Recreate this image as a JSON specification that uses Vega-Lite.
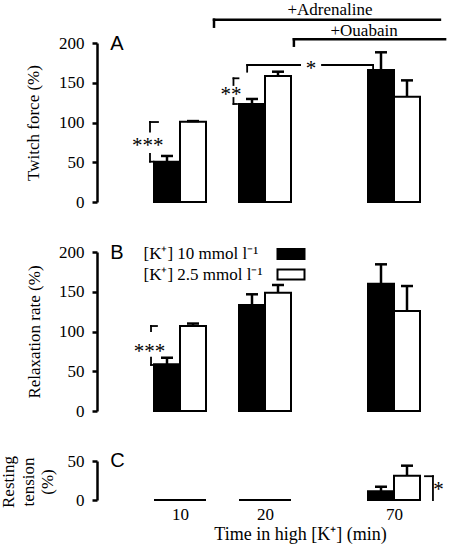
{
  "$schema": "https://vega.github.io/schema/vega-lite/v6.json",
  "autosize": {"type": "none"},
  "padding": {"left": 97, "top": 43, "right": 355, "bottom": 505},
  "background": "white",
  "datasets": {
    "bars": [
      {"panel": "A", "time": 10, "conc": 10, "series": "[K⁺] 10 mmol l⁻¹", "mean": 50.7, "upper": 57.9},
      {"panel": "A", "time": 10, "conc": 2.5, "series": "[K⁺] 2.5 mmol l⁻¹", "mean": 101, "upper": 101.8},
      {"panel": "A", "time": 20, "conc": 10, "series": "[K⁺] 10 mmol l⁻¹", "mean": 123.3, "upper": 129.6},
      {"panel": "A", "time": 20, "conc": 2.5, "series": "[K⁺] 2.5 mmol l⁻¹", "mean": 158.5, "upper": 163.9},
      {"panel": "A", "time": 70, "conc": 10, "series": "[K⁺] 10 mmol l⁻¹", "mean": 166, "upper": 188.3},
      {"panel": "A", "time": 70, "conc": 2.5, "series": "[K⁺] 2.5 mmol l⁻¹", "mean": 132.5, "upper": 153},
      {"panel": "B", "time": 10, "conc": 10, "series": "[K⁺] 10 mmol l⁻¹", "mean": 58.7, "upper": 67},
      {"panel": "B", "time": 10, "conc": 2.5, "series": "[K⁺] 2.5 mmol l⁻¹", "mean": 107, "upper": 110},
      {"panel": "B", "time": 20, "conc": 10, "series": "[K⁺] 10 mmol l⁻¹", "mean": 133.3, "upper": 146.8},
      {"panel": "B", "time": 20, "conc": 2.5, "series": "[K⁺] 2.5 mmol l⁻¹", "mean": 148.8, "upper": 158.5},
      {"panel": "B", "time": 70, "conc": 10, "series": "[K⁺] 10 mmol l⁻¹", "mean": 160.1, "upper": 184.5},
      {"panel": "B", "time": 70, "conc": 2.5, "series": "[K⁺] 2.5 mmol l⁻¹", "mean": 125.8, "upper": 157.2},
      {"panel": "C", "time": 10, "conc": 10, "series": "[K⁺] 10 mmol l⁻¹", "mean": 0, "upper": null},
      {"panel": "C", "time": 10, "conc": 2.5, "series": "[K⁺] 2.5 mmol l⁻¹", "mean": 0, "upper": null},
      {"panel": "C", "time": 20, "conc": 10, "series": "[K⁺] 10 mmol l⁻¹", "mean": 0, "upper": null},
      {"panel": "C", "time": 20, "conc": 2.5, "series": "[K⁺] 2.5 mmol l⁻¹", "mean": 0, "upper": null},
      {"panel": "C", "time": 70, "conc": 10, "series": "[K⁺] 10 mmol l⁻¹", "mean": 11.2, "upper": 17},
      {"panel": "C", "time": 70, "conc": 2.5, "series": "[K⁺] 2.5 mmol l⁻¹", "mean": 31, "upper": 44}
    ],
    "segments": [
      {"panel": "A", "kind": "treatment", "t1": 14.0, "t2": 87.8, "y1": 229.3, "y2": 229.3},
      {"panel": "A", "kind": "treatment", "t1": 14.0, "t2": 14.0, "y1": 229.3, "y2": 220.5},
      {"panel": "A", "kind": "treatment", "t1": 31.2, "t2": 89.8, "y1": 204.7, "y2": 204.7},
      {"panel": "A", "kind": "treatment", "t1": 31.2, "t2": 31.2, "y1": 204.7, "y2": 196.6},
      {"panel": "A", "kind": "sig", "t1": 17.9, "t2": 33.6, "y1": 172.3, "y2": 172.3},
      {"panel": "A", "kind": "sig", "t1": 17.9, "t2": 17.9, "y1": 172.3, "y2": 163.9},
      {"panel": "A", "kind": "sig", "t1": 42.1, "t2": 61.9, "y1": 172.3, "y2": 172.3},
      {"panel": "A", "kind": "sig", "t1": 61.9, "t2": 61.9, "y1": 172.3, "y2": 166},
      {"panel": "A", "kind": "sig", "t1": 16.29, "t2": 16.88, "y1": 155.6, "y2": 155.6},
      {"panel": "A", "kind": "sig", "t1": 16.29, "t2": 16.29, "y1": 155.6, "y2": 147.2},
      {"panel": "A", "kind": "sig", "t1": 16.29, "t2": 16.29, "y1": 130.8, "y2": 123.3},
      {"panel": "A", "kind": "sig", "t1": 16.29, "t2": 16.7, "y1": 123.3, "y2": 123.3},
      {"panel": "A", "kind": "sig", "t1": 6.47, "t2": 7.41, "y1": 100.6, "y2": 100.6},
      {"panel": "A", "kind": "sig", "t1": 6.47, "t2": 6.47, "y1": 100.6, "y2": 88.4},
      {"panel": "A", "kind": "sig", "t1": 6.47, "t2": 6.47, "y1": 60.4, "y2": 50.7},
      {"panel": "A", "kind": "sig", "t1": 6.47, "t2": 6.88, "y1": 50.7, "y2": 50.7},
      {"panel": "B", "kind": "sig", "t1": 6.59, "t2": 7.29, "y1": 106.9, "y2": 106.9},
      {"panel": "B", "kind": "sig", "t1": 6.59, "t2": 6.59, "y1": 106.9, "y2": 100.6},
      {"panel": "B", "kind": "sig", "t1": 6.59, "t2": 6.59, "y1": 67.0, "y2": 57.9},
      {"panel": "B", "kind": "sig", "t1": 6.59, "t2": 7.06, "y1": 57.9, "y2": 57.9},
      {"panel": "C", "kind": "sig", "t1": 82.0, "t2": 85.1, "y1": 30.5, "y2": 30.5},
      {"panel": "C", "kind": "sig", "t1": 85.1, "t2": 85.1, "y1": 30.5, "y2": 0}
    ],
    "notes": [
      {"panel": "A", "kind": "treatment", "t": 45.2, "y": 235.2, "text": "+Adrenaline"},
      {"panel": "A", "kind": "treatment", "t": 58.4, "y": 209.2, "text": "+Ouabain"},
      {"panel": "A", "kind": "stars", "t": 37.8, "y": 172.3, "text": "*"},
      {"panel": "A", "kind": "stars", "t": 16.0, "y": 139.6, "text": "**"},
      {"panel": "A", "kind": "stars", "t": 6.2, "y": 75.8, "text": "***"},
      {"panel": "B", "kind": "stars", "t": 6.4, "y": 79.6, "text": "***"},
      {"panel": "C", "kind": "stars", "t": 87.2, "y": 18.3, "text": "*"},
      {"panel": "A", "kind": "letter", "t": 1.8, "y": 191.2, "text": "A"},
      {"panel": "B", "kind": "letter", "t": 1.8, "y": 190.8, "text": "B"},
      {"panel": "C", "kind": "letter", "t": 1.8, "y": 41.9, "text": "C"}
    ]
  },
  "bounds": "flush",
  "spacing": 50,
  "resolve": {"scale": {"fill": "independent"}},
  "vconcat": [
    {
      "width": 350,
      "height": 159,
      "layer": [
        {
          "data": {"name": "bars"},
          "transform": [{"filter": "datum.panel === 'A' && datum.conc === 10"}],
          "mark": {"type": "bar", "orient": "vertical", "size": 26, "xOffset": -13, "stroke": "black", "strokeWidth": 2},
          "encoding": {
            "x": {"field": "time", "type": "quantitative", "scale": {"type": "linear", "domain": [10, 20, 70], "range": [83, 168, 297], "nice": false, "zero": false, "padding": 0}, "axis": null},
            "y": {"field": "mean", "type": "quantitative", "stack": null, "scale": {"domain": [0, 200], "nice": false, "padding": 0}, "axis": {"title": "Twitch force (%)", "values": [0, 50, 100, 150, 200], "labelOverlap": false, "titlePadding": 16}},
            "fill": {"field": "series", "type": "nominal", "scale": {"domain": ["[K⁺] 10 mmol l⁻¹", "[K⁺] 2.5 mmol l⁻¹"], "range": ["black", "white"]}, "legend": null}
          }
        },
        {
          "data": {"name": "bars"},
          "transform": [{"filter": "datum.panel === 'A' && datum.conc === 2.5"}],
          "mark": {"type": "bar", "orient": "vertical", "size": 26, "xOffset": 13, "stroke": "black", "strokeWidth": 2},
          "encoding": {
            "x": {"field": "time", "type": "quantitative", "scale": {"type": "linear", "domain": [10, 20, 70], "range": [83, 168, 297], "nice": false, "zero": false, "padding": 0}, "axis": null},
            "y": {"field": "mean", "type": "quantitative", "stack": null, "scale": {"domain": [0, 200], "nice": false, "padding": 0}, "axis": {"title": "Twitch force (%)", "values": [0, 50, 100, 150, 200], "labelOverlap": false, "titlePadding": 16}},
            "fill": {"field": "series", "type": "nominal", "scale": {"domain": ["[K⁺] 10 mmol l⁻¹", "[K⁺] 2.5 mmol l⁻¹"], "range": ["black", "white"]}, "legend": null}
          }
        },
        {
          "data": {"name": "bars"},
          "transform": [{"filter": "datum.panel === 'A' && datum.conc === 10 && datum.upper != null"}],
          "mark": {"type": "rule", "xOffset": -13, "strokeWidth": 2.5, "color": "black"},
          "encoding": {
            "x": {"field": "time", "type": "quantitative", "scale": {"type": "linear", "domain": [10, 20, 70], "range": [83, 168, 297], "nice": false, "zero": false, "padding": 0}, "axis": null},
            "y": {"field": "mean", "type": "quantitative", "scale": {"domain": [0, 200], "nice": false, "padding": 0}, "axis": {"title": "Twitch force (%)", "values": [0, 50, 100, 150, 200], "labelOverlap": false, "titlePadding": 16}},
            "y2": {"field": "upper"}
          }
        },
        {
          "data": {"name": "bars"},
          "transform": [{"filter": "datum.panel === 'A' && datum.conc === 2.5 && datum.upper != null"}],
          "mark": {"type": "rule", "xOffset": 13, "strokeWidth": 2.5, "color": "black"},
          "encoding": {
            "x": {"field": "time", "type": "quantitative", "scale": {"type": "linear", "domain": [10, 20, 70], "range": [83, 168, 297], "nice": false, "zero": false, "padding": 0}, "axis": null},
            "y": {"field": "mean", "type": "quantitative", "scale": {"domain": [0, 200], "nice": false, "padding": 0}, "axis": {"title": "Twitch force (%)", "values": [0, 50, 100, 150, 200], "labelOverlap": false, "titlePadding": 16}},
            "y2": {"field": "upper"}
          }
        },
        {
          "data": {"name": "bars"},
          "transform": [{"filter": "datum.panel === 'A' && datum.conc === 10 && datum.upper != null"}],
          "mark": {"type": "tick", "orient": "horizontal", "xOffset": -13, "size": 12, "thickness": 2.5, "color": "black", "opacity": 1},
          "encoding": {
            "x": {"field": "time", "type": "quantitative", "scale": {"type": "linear", "domain": [10, 20, 70], "range": [83, 168, 297], "nice": false, "zero": false, "padding": 0}, "axis": null},
            "y": {"field": "upper", "type": "quantitative", "scale": {"domain": [0, 200], "nice": false, "padding": 0}, "axis": {"title": "Twitch force (%)", "values": [0, 50, 100, 150, 200], "labelOverlap": false, "titlePadding": 16}}
          }
        },
        {
          "data": {"name": "bars"},
          "transform": [{"filter": "datum.panel === 'A' && datum.conc === 2.5 && datum.upper != null"}],
          "mark": {"type": "tick", "orient": "horizontal", "xOffset": 13, "size": 12, "thickness": 2.5, "color": "black", "opacity": 1},
          "encoding": {
            "x": {"field": "time", "type": "quantitative", "scale": {"type": "linear", "domain": [10, 20, 70], "range": [83, 168, 297], "nice": false, "zero": false, "padding": 0}, "axis": null},
            "y": {"field": "upper", "type": "quantitative", "scale": {"domain": [0, 200], "nice": false, "padding": 0}, "axis": {"title": "Twitch force (%)", "values": [0, 50, 100, 150, 200], "labelOverlap": false, "titlePadding": 16}}
          }
        },
        {
          "data": {"name": "segments"},
          "transform": [{"filter": "datum.panel === 'A' && datum.kind === 'treatment'"}],
          "mark": {"type": "rule", "strokeWidth": 2.5, "strokeCap": "square", "color": "black"},
          "encoding": {
            "x": {"field": "t1", "type": "quantitative", "scale": {"type": "linear", "domain": [10, 20, 70], "range": [83, 168, 297], "nice": false, "zero": false, "padding": 0}, "axis": null},
            "x2": {"field": "t2"},
            "y": {"field": "y1", "type": "quantitative", "scale": {"domain": [0, 200], "nice": false, "padding": 0}, "axis": {"title": "Twitch force (%)", "values": [0, 50, 100, 150, 200], "labelOverlap": false, "titlePadding": 16}},
            "y2": {"field": "y2"}
          }
        },
        {
          "data": {"name": "segments"},
          "transform": [{"filter": "datum.panel === 'A' && datum.kind === 'sig'"}],
          "mark": {"type": "rule", "strokeWidth": 1.8, "strokeCap": "square", "color": "black"},
          "encoding": {
            "x": {"field": "t1", "type": "quantitative", "scale": {"type": "linear", "domain": [10, 20, 70], "range": [83, 168, 297], "nice": false, "zero": false, "padding": 0}, "axis": null},
            "x2": {"field": "t2"},
            "y": {"field": "y1", "type": "quantitative", "scale": {"domain": [0, 200], "nice": false, "padding": 0}, "axis": {"title": "Twitch force (%)", "values": [0, 50, 100, 150, 200], "labelOverlap": false, "titlePadding": 16}},
            "y2": {"field": "y2"}
          }
        },
        {
          "data": {"name": "notes"},
          "transform": [{"filter": "datum.panel === 'A' && datum.kind === 'treatment'"}],
          "mark": {"type": "text", "font": "Liberation Serif", "fontSize": 17, "align": "center", "baseline": "alphabetic", "color": "black"},
          "encoding": {
            "x": {"field": "t", "type": "quantitative", "scale": {"type": "linear", "domain": [10, 20, 70], "range": [83, 168, 297], "nice": false, "zero": false, "padding": 0}, "axis": null},
            "y": {"field": "y", "type": "quantitative", "scale": {"domain": [0, 200], "nice": false, "padding": 0}, "axis": {"title": "Twitch force (%)", "values": [0, 50, 100, 150, 200], "labelOverlap": false, "titlePadding": 16}},
            "text": {"field": "text"}
          }
        },
        {
          "data": {"name": "notes"},
          "transform": [{"filter": "datum.panel === 'A' && datum.kind === 'stars'"}],
          "mark": {"type": "text", "font": "Liberation Serif", "fontSize": 21, "align": "center", "baseline": "alphabetic", "dy": 10, "color": "black"},
          "encoding": {
            "x": {"field": "t", "type": "quantitative", "scale": {"type": "linear", "domain": [10, 20, 70], "range": [83, 168, 297], "nice": false, "zero": false, "padding": 0}, "axis": null},
            "y": {"field": "y", "type": "quantitative", "scale": {"domain": [0, 200], "nice": false, "padding": 0}, "axis": {"title": "Twitch force (%)", "values": [0, 50, 100, 150, 200], "labelOverlap": false, "titlePadding": 16}},
            "text": {"field": "text"}
          }
        },
        {
          "data": {"name": "notes"},
          "transform": [{"filter": "datum.panel === 'A' && datum.kind === 'letter'"}],
          "mark": {"type": "text", "font": "Liberation Sans", "fontSize": 20, "align": "left", "baseline": "alphabetic", "color": "black"},
          "encoding": {
            "x": {"field": "t", "type": "quantitative", "scale": {"type": "linear", "domain": [10, 20, 70], "range": [83, 168, 297], "nice": false, "zero": false, "padding": 0}, "axis": null},
            "y": {"field": "y", "type": "quantitative", "scale": {"domain": [0, 200], "nice": false, "padding": 0}, "axis": {"title": "Twitch force (%)", "values": [0, 50, 100, 150, 200], "labelOverlap": false, "titlePadding": 16}},
            "text": {"field": "text"}
          }
        }
      ]
    },
    {
      "width": 350,
      "height": 159,
      "layer": [
        {
          "data": {"name": "bars"},
          "transform": [{"filter": "datum.panel === 'B' && datum.conc === 10"}],
          "mark": {"type": "bar", "orient": "vertical", "size": 26, "xOffset": -13, "stroke": "black", "strokeWidth": 2},
          "encoding": {
            "x": {"field": "time", "type": "quantitative", "scale": {"type": "linear", "domain": [10, 20, 70], "range": [83, 168, 297], "nice": false, "zero": false, "padding": 0}, "axis": null},
            "y": {"field": "mean", "type": "quantitative", "stack": null, "scale": {"domain": [0, 200], "nice": false, "padding": 0}, "axis": {"title": "Relaxation rate (%)", "values": [0, 50, 100, 150, 200], "labelOverlap": false, "titlePadding": 15}},
            "fill": {
              "field": "series", "type": "nominal",
              "scale": {"domain": ["[K⁺] 10 mmol l⁻¹", "[K⁺] 2.5 mmol l⁻¹"], "range": ["black", "white"]},
              "legend": {
                "orient": "none", "legendX": 185.5, "legendY": -6.5, "title": null, "padding": 0,
                "symbolType": "M-2.7,-1H2.7V1H-2.7Z", "symbolSize": 100,
                "symbolStrokeColor": "black", "symbolStrokeWidth": 2,
                "labelFont": "Liberation Serif", "labelFontSize": 17, "labelColor": "black",
                "labelOffset": -156, "labelLimit": 300, "rowPadding": 1.5
              }
            }
          }
        },
        {
          "data": {"name": "bars"},
          "transform": [{"filter": "datum.panel === 'B' && datum.conc === 2.5"}],
          "mark": {"type": "bar", "orient": "vertical", "size": 26, "xOffset": 13, "stroke": "black", "strokeWidth": 2},
          "encoding": {
            "x": {"field": "time", "type": "quantitative", "scale": {"type": "linear", "domain": [10, 20, 70], "range": [83, 168, 297], "nice": false, "zero": false, "padding": 0}, "axis": null},
            "y": {"field": "mean", "type": "quantitative", "stack": null, "scale": {"domain": [0, 200], "nice": false, "padding": 0}, "axis": {"title": "Relaxation rate (%)", "values": [0, 50, 100, 150, 200], "labelOverlap": false, "titlePadding": 15}},
            "fill": {"field": "series", "type": "nominal", "scale": {"domain": ["[K⁺] 10 mmol l⁻¹", "[K⁺] 2.5 mmol l⁻¹"], "range": ["black", "white"]}}
          }
        },
        {
          "data": {"name": "bars"},
          "transform": [{"filter": "datum.panel === 'B' && datum.conc === 10 && datum.upper != null"}],
          "mark": {"type": "rule", "xOffset": -13, "strokeWidth": 2.5, "color": "black"},
          "encoding": {
            "x": {"field": "time", "type": "quantitative", "scale": {"type": "linear", "domain": [10, 20, 70], "range": [83, 168, 297], "nice": false, "zero": false, "padding": 0}, "axis": null},
            "y": {"field": "mean", "type": "quantitative", "scale": {"domain": [0, 200], "nice": false, "padding": 0}, "axis": {"title": "Relaxation rate (%)", "values": [0, 50, 100, 150, 200], "labelOverlap": false, "titlePadding": 15}},
            "y2": {"field": "upper"}
          }
        },
        {
          "data": {"name": "bars"},
          "transform": [{"filter": "datum.panel === 'B' && datum.conc === 2.5 && datum.upper != null"}],
          "mark": {"type": "rule", "xOffset": 13, "strokeWidth": 2.5, "color": "black"},
          "encoding": {
            "x": {"field": "time", "type": "quantitative", "scale": {"type": "linear", "domain": [10, 20, 70], "range": [83, 168, 297], "nice": false, "zero": false, "padding": 0}, "axis": null},
            "y": {"field": "mean", "type": "quantitative", "scale": {"domain": [0, 200], "nice": false, "padding": 0}, "axis": {"title": "Relaxation rate (%)", "values": [0, 50, 100, 150, 200], "labelOverlap": false, "titlePadding": 15}},
            "y2": {"field": "upper"}
          }
        },
        {
          "data": {"name": "bars"},
          "transform": [{"filter": "datum.panel === 'B' && datum.conc === 10 && datum.upper != null"}],
          "mark": {"type": "tick", "orient": "horizontal", "xOffset": -13, "size": 12, "thickness": 2.5, "color": "black", "opacity": 1},
          "encoding": {
            "x": {"field": "time", "type": "quantitative", "scale": {"type": "linear", "domain": [10, 20, 70], "range": [83, 168, 297], "nice": false, "zero": false, "padding": 0}, "axis": null},
            "y": {"field": "upper", "type": "quantitative", "scale": {"domain": [0, 200], "nice": false, "padding": 0}, "axis": {"title": "Relaxation rate (%)", "values": [0, 50, 100, 150, 200], "labelOverlap": false, "titlePadding": 15}}
          }
        },
        {
          "data": {"name": "bars"},
          "transform": [{"filter": "datum.panel === 'B' && datum.conc === 2.5 && datum.upper != null"}],
          "mark": {"type": "tick", "orient": "horizontal", "xOffset": 13, "size": 12, "thickness": 2.5, "color": "black", "opacity": 1},
          "encoding": {
            "x": {"field": "time", "type": "quantitative", "scale": {"type": "linear", "domain": [10, 20, 70], "range": [83, 168, 297], "nice": false, "zero": false, "padding": 0}, "axis": null},
            "y": {"field": "upper", "type": "quantitative", "scale": {"domain": [0, 200], "nice": false, "padding": 0}, "axis": {"title": "Relaxation rate (%)", "values": [0, 50, 100, 150, 200], "labelOverlap": false, "titlePadding": 15}}
          }
        },
        {
          "data": {"name": "segments"},
          "transform": [{"filter": "datum.panel === 'B' && datum.kind === 'sig'"}],
          "mark": {"type": "rule", "strokeWidth": 1.8, "strokeCap": "square", "color": "black"},
          "encoding": {
            "x": {"field": "t1", "type": "quantitative", "scale": {"type": "linear", "domain": [10, 20, 70], "range": [83, 168, 297], "nice": false, "zero": false, "padding": 0}, "axis": null},
            "x2": {"field": "t2"},
            "y": {"field": "y1", "type": "quantitative", "scale": {"domain": [0, 200], "nice": false, "padding": 0}, "axis": {"title": "Relaxation rate (%)", "values": [0, 50, 100, 150, 200], "labelOverlap": false, "titlePadding": 15}},
            "y2": {"field": "y2"}
          }
        },
        {
          "data": {"name": "notes"},
          "transform": [{"filter": "datum.panel === 'B' && datum.kind === 'stars'"}],
          "mark": {"type": "text", "font": "Liberation Serif", "fontSize": 21, "align": "center", "baseline": "alphabetic", "dy": 10, "color": "black"},
          "encoding": {
            "x": {"field": "t", "type": "quantitative", "scale": {"type": "linear", "domain": [10, 20, 70], "range": [83, 168, 297], "nice": false, "zero": false, "padding": 0}, "axis": null},
            "y": {"field": "y", "type": "quantitative", "scale": {"domain": [0, 200], "nice": false, "padding": 0}, "axis": {"title": "Relaxation rate (%)", "values": [0, 50, 100, 150, 200], "labelOverlap": false, "titlePadding": 15}},
            "text": {"field": "text"}
          }
        },
        {
          "data": {"name": "notes"},
          "transform": [{"filter": "datum.panel === 'B' && datum.kind === 'letter'"}],
          "mark": {"type": "text", "font": "Liberation Sans", "fontSize": 20, "align": "left", "baseline": "alphabetic", "color": "black"},
          "encoding": {
            "x": {"field": "t", "type": "quantitative", "scale": {"type": "linear", "domain": [10, 20, 70], "range": [83, 168, 297], "nice": false, "zero": false, "padding": 0}, "axis": null},
            "y": {"field": "y", "type": "quantitative", "scale": {"domain": [0, 200], "nice": false, "padding": 0}, "axis": {"title": "Relaxation rate (%)", "values": [0, 50, 100, 150, 200], "labelOverlap": false, "titlePadding": 15}},
            "text": {"field": "text"}
          }
        }
      ]
    },
    {
      "width": 350,
      "height": 39,
      "resolve": {"axis": {"y": "independent"}},
      "layer": [
        {
          "data": {"name": "bars"},
          "transform": [{"filter": "datum.panel === 'C' && datum.conc === 10"}],
          "mark": {"type": "bar", "orient": "vertical", "size": 26, "xOffset": -13, "stroke": "black", "strokeWidth": 2},
          "encoding": {
            "x": {"field": "time", "type": "quantitative", "scale": {"type": "linear", "domain": [10, 20, 70], "range": [83, 168, 297], "nice": false, "zero": false, "padding": 0},
              "axis": {"values": [10, 20, 70], "domain": false, "ticks": false, "tickSize": 0, "labelPadding": 19, "labelBaseline": "alphabetic", "labelDx": 3, "labelFlush": false, "labelOverlap": false,
                "title": "Time in high [K⁺] (min)", "titleFontSize": 18, "titleX": 203, "titleY": 39, "titleBaseline": "alphabetic", "titleAlign": "center"}},
            "y": {"field": "mean", "type": "quantitative", "stack": null, "scale": {"domain": [0, 50], "nice": false, "padding": 0},
              "axis": {"orient": "left", "title": "(%)", "values": [0, 50], "labelOverlap": false, "titleAngle": 270, "titleX": -45, "titleY": 20.5, "titleAlign": "center", "titleBaseline": "alphabetic"}},
            "fill": {"field": "series", "type": "nominal", "scale": {"domain": ["[K⁺] 10 mmol l⁻¹", "[K⁺] 2.5 mmol l⁻¹"], "range": ["black", "white"]}, "legend": null}
          }
        },
        {
          "data": {"name": "bars"},
          "transform": [{"filter": "datum.panel === 'C' && datum.conc === 2.5"}],
          "mark": {"type": "bar", "orient": "vertical", "size": 26, "xOffset": 13, "stroke": "black", "strokeWidth": 2},
          "encoding": {
            "x": {"field": "time", "type": "quantitative", "scale": {"type": "linear", "domain": [10, 20, 70], "range": [83, 168, 297], "nice": false, "zero": false, "padding": 0}},
            "y": {"field": "mean", "type": "quantitative", "stack": null, "scale": {"domain": [0, 50], "nice": false, "padding": 0},
              "axis": {"orient": "left", "title": "tension", "domain": false, "ticks": false, "labels": false, "titleAngle": 270, "titleX": -64, "titleY": 20.5, "titleAlign": "center", "titleBaseline": "alphabetic"}},
            "fill": {"field": "series", "type": "nominal", "scale": {"domain": ["[K⁺] 10 mmol l⁻¹", "[K⁺] 2.5 mmol l⁻¹"], "range": ["black", "white"]}, "legend": null}
          }
        },
        {
          "data": {"name": "bars"},
          "transform": [{"filter": "datum.panel === 'C' && datum.conc === 10 && datum.upper != null"}],
          "mark": {"type": "rule", "xOffset": -13, "strokeWidth": 2.5, "color": "black"},
          "encoding": {
            "x": {"field": "time", "type": "quantitative", "scale": {"type": "linear", "domain": [10, 20, 70], "range": [83, 168, 297], "nice": false, "zero": false, "padding": 0}},
            "y": {"field": "mean", "type": "quantitative", "scale": {"domain": [0, 50], "nice": false, "padding": 0},
              "axis": {"orient": "left", "title": "Resting", "domain": false, "ticks": false, "labels": false, "titleAngle": 270, "titleX": -84, "titleY": 20.5, "titleAlign": "center", "titleBaseline": "alphabetic"}},
            "y2": {"field": "upper"}
          }
        },
        {
          "data": {"name": "bars"},
          "transform": [{"filter": "datum.panel === 'C' && datum.conc === 2.5 && datum.upper != null"}],
          "mark": {"type": "rule", "xOffset": 13, "strokeWidth": 2.5, "color": "black"},
          "encoding": {
            "x": {"field": "time", "type": "quantitative", "scale": {"type": "linear", "domain": [10, 20, 70], "range": [83, 168, 297], "nice": false, "zero": false, "padding": 0}},
            "y": {"field": "mean", "type": "quantitative", "scale": {"domain": [0, 50], "nice": false, "padding": 0}, "axis": null},
            "y2": {"field": "upper"}
          }
        },
        {
          "data": {"name": "bars"},
          "transform": [{"filter": "datum.panel === 'C' && datum.conc === 10 && datum.upper != null"}],
          "mark": {"type": "tick", "orient": "horizontal", "xOffset": -13, "size": 12, "thickness": 2.5, "color": "black", "opacity": 1},
          "encoding": {
            "x": {"field": "time", "type": "quantitative", "scale": {"type": "linear", "domain": [10, 20, 70], "range": [83, 168, 297], "nice": false, "zero": false, "padding": 0}},
            "y": {"field": "upper", "type": "quantitative", "scale": {"domain": [0, 50], "nice": false, "padding": 0}, "axis": null}
          }
        },
        {
          "data": {"name": "bars"},
          "transform": [{"filter": "datum.panel === 'C' && datum.conc === 2.5 && datum.upper != null"}],
          "mark": {"type": "tick", "orient": "horizontal", "xOffset": 13, "size": 12, "thickness": 2.5, "color": "black", "opacity": 1},
          "encoding": {
            "x": {"field": "time", "type": "quantitative", "scale": {"type": "linear", "domain": [10, 20, 70], "range": [83, 168, 297], "nice": false, "zero": false, "padding": 0}},
            "y": {"field": "upper", "type": "quantitative", "scale": {"domain": [0, 50], "nice": false, "padding": 0}, "axis": null}
          }
        },
        {
          "data": {"name": "segments"},
          "transform": [{"filter": "datum.panel === 'C' && datum.kind === 'sig'"}],
          "mark": {"type": "rule", "strokeWidth": 1.8, "strokeCap": "square", "color": "black"},
          "encoding": {
            "x": {"field": "t1", "type": "quantitative", "scale": {"type": "linear", "domain": [10, 20, 70], "range": [83, 168, 297], "nice": false, "zero": false, "padding": 0}},
            "x2": {"field": "t2"},
            "y": {"field": "y1", "type": "quantitative", "scale": {"domain": [0, 50], "nice": false, "padding": 0}, "axis": null},
            "y2": {"field": "y2"}
          }
        },
        {
          "data": {"name": "notes"},
          "transform": [{"filter": "datum.panel === 'C' && datum.kind === 'stars'"}],
          "mark": {"type": "text", "font": "Liberation Serif", "fontSize": 21, "align": "center", "baseline": "alphabetic", "dy": 10, "color": "black"},
          "encoding": {
            "x": {"field": "t", "type": "quantitative", "scale": {"type": "linear", "domain": [10, 20, 70], "range": [83, 168, 297], "nice": false, "zero": false, "padding": 0}},
            "y": {"field": "y", "type": "quantitative", "scale": {"domain": [0, 50], "nice": false, "padding": 0}, "axis": null},
            "text": {"field": "text"}
          }
        },
        {
          "data": {"name": "notes"},
          "transform": [{"filter": "datum.panel === 'C' && datum.kind === 'letter'"}],
          "mark": {"type": "text", "font": "Liberation Sans", "fontSize": 20, "align": "left", "baseline": "alphabetic", "color": "black"},
          "encoding": {
            "x": {"field": "t", "type": "quantitative", "scale": {"type": "linear", "domain": [10, 20, 70], "range": [83, 168, 297], "nice": false, "zero": false, "padding": 0}},
            "y": {"field": "y", "type": "quantitative", "scale": {"domain": [0, 50], "nice": false, "padding": 0}, "axis": null},
            "text": {"field": "text"}
          }
        }
      ]
    }
  ],
  "config": {
    "view": {"stroke": null},
    "font": "Liberation Serif",
    "axis": {
      "grid": false,
      "labelFont": "Liberation Serif", "labelFontSize": 17, "labelColor": "black", "labelFlush": false,
      "titleFont": "Liberation Serif", "titleFontSize": 17, "titleFontWeight": "normal", "titleColor": "black",
      "domainColor": "black", "domainWidth": 2.5, "tickColor": "black", "tickWidth": 2.5, "tickSize": 5, "labelPadding": 8
    }
  }
}
